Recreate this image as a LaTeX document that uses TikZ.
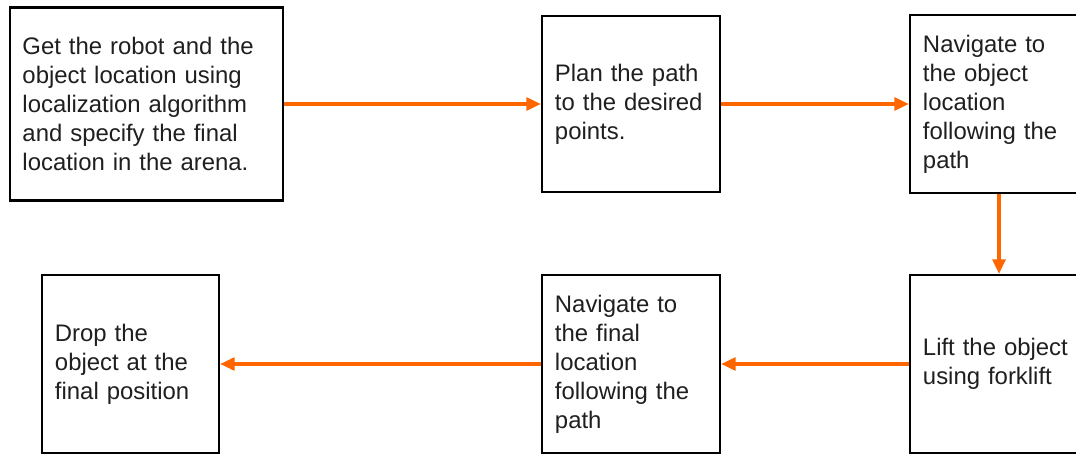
\documentclass[tikz,border=0pt]{standalone}
\usepackage{fontspec}
\setmainfont{Liberation Sans}
\usetikzlibrary{arrows.meta}
\definecolor{flowor}{RGB}{255,102,0}

\begin{document}
\begin{tikzpicture}[x=0.025cm,y=-0.025cm,
  box/.style={draw=black,line width=1.6pt,fill=white,align=left,inner sep=0pt,
    font=\fontsize{17}{20.6}\selectfont,text=black!88},
  flow/.style={draw=flowor,line width=2.2pt,-{Triangle[length=3.6mm,width=3.2mm]}}]

\useasboundingbox (0,0) rectangle (1076,453);
\clip (0,0) rectangle (1076,453);

% steps, top row:
\node[box,minimum width=6.825cm,minimum height=4.825cm,text width=6.2cm] (locate) at (146.5,104)
  {Get the robot and the\\object location using\\localization algorithm\\and specify the final\\location in the arena.};
\node[box,minimum width=4.45cm,minimum height=4.4cm,text width=3.8cm] (plan) at (631,104)
  {Plan the path\\to the desired\\points.};
\node[box,minimum width=4.45cm,minimum height=4.45cm,text width=3.8cm] (goobject) at (999,104)
  {Navigate to\\the object\\location\\following the\\path};

% steps, bottom row:
\node[box,minimum width=4.45cm,minimum height=4.45cm,text width=3.8cm] (lift) at (999,364)
  {Lift the object\\using forklift};
\node[box,minimum width=4.45cm,minimum height=4.45cm,text width=3.8cm] (gofinal) at (631,364)
  {Navigate to\\the final\\location\\following the\\path};
\node[box,minimum width=4.425cm,minimum height=4.45cm,text width=3.775cm] (drop) at (130.5,364)
  {Drop the\\object at the\\final position};

% arrows:
\draw[flow] (locate) -- (plan);
\draw[flow] (plan) -- (goobject);
\draw[flow] (goobject) -- (lift);
\draw[flow] (lift) -- (gofinal);
\draw[flow] (gofinal) -- (drop);

\end{tikzpicture}
\end{document}
